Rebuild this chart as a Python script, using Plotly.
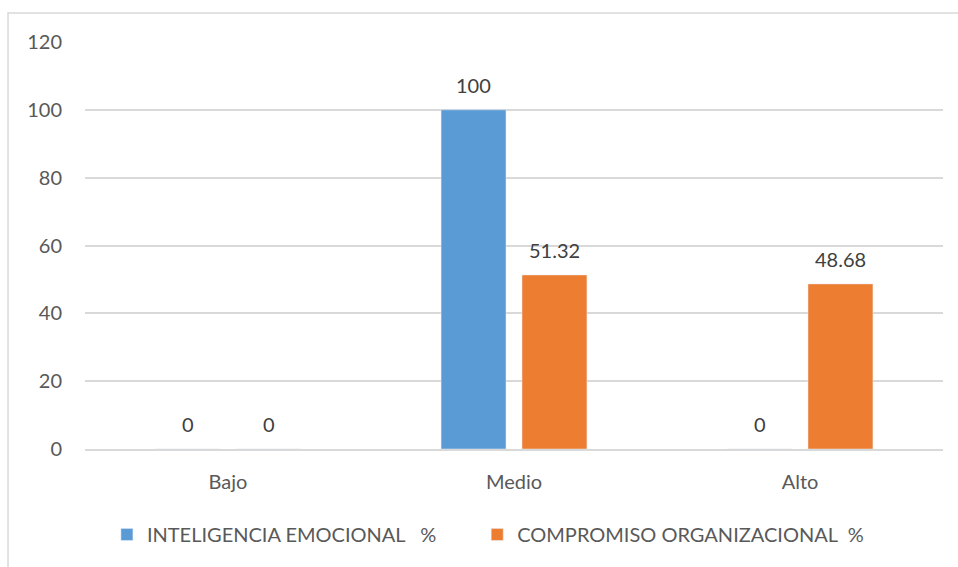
import plotly.graph_objects as go

categories = ["Bajo", "Medio", "Alto"]
inteligencia = [0, 100, 0]
compromiso = [0, 51.32, 48.68]
series_names = ["INTELIGENCIA EMOCIONAL\u00a0\u00a0\u00a0%", "COMPROMISO ORGANIZACIONAL\u00a0\u00a0%"]
y_ticks = [0, 20, 40, 60, 80, 100, 120]

BLUE = "#5B9BD5"
ORANGE = "#ED7D31"
FONT = "Lato"
TEXT = "#595959"
SIZE = 20
LEGEND_PAD = "\u00a0" * 7  # extra room between the two legend entries

fig = go.Figure()
fig.add_trace(go.Bar(x=categories, y=inteligencia, name=series_names[0] + LEGEND_PAD,
                     marker_color=BLUE))
fig.add_trace(go.Bar(x=categories, y=compromiso, name=series_names[1],
                     marker_color=ORANGE))

# value labels above each bar
for vals, shift in ((inteligencia, -40.5), (compromiso, 40.5)):
    for cat, v in zip(categories, vals):
        fig.add_annotation(x=cat, y=v, xref="x", yref="y", text=f"{v:g}",
                           showarrow=False, xshift=shift, yshift=25,
                           font=dict(family=FONT, size=SIZE, color="#404040"))

# outer chart frame
fig.add_shape(type="rect", xref="paper", yref="paper",
              x0=-0.0897, x1=1.03, y0=-0.32, y1=1.0713,
              line=dict(color="#D9D9D9", width=1.5), fillcolor="rgba(0,0,0,0)",
              layer="below")

fig.update_layout(
    width=958, height=567,
    margin=dict(l=85, r=15, t=42, b=118),
    plot_bgcolor="white", paper_bgcolor="white",
    barmode="group", bargap=0.434, bargroupgap=0.198,
    font=dict(family=FONT, size=SIZE, color=TEXT),
    showlegend=True,
    legend=dict(orientation="h", x=0.4696, xanchor="center", y=-0.21, yanchor="middle",
                font=dict(family=FONT, size=SIZE, color=TEXT), itemwidth=30,
                traceorder="normal"),
    xaxis=dict(showline=True, linecolor="#D9D9D9", linewidth=1.5, ticks="",
               tickfont=dict(family=FONT, size=SIZE, color=TEXT), showgrid=False,
               ticklabelstandoff=14),
    yaxis=dict(range=[0, 120], tickvals=y_ticks, showgrid=True, gridcolor="#D9D9D9",
               gridwidth=1.5, zeroline=False, showline=False, ticks="",
               tickfont=dict(family=FONT, size=SIZE, color=TEXT), ticklabelstandoff=22),
)

fig.write_html("out.html")
